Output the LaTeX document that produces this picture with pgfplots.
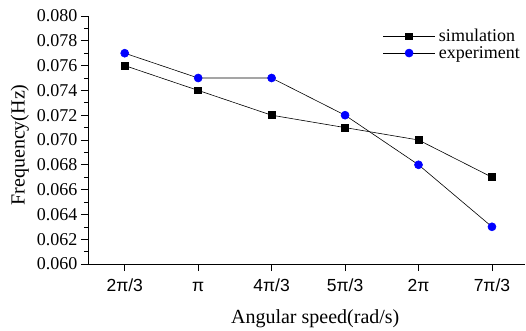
\documentclass[border=0pt]{standalone}
\usepackage{pgfplots}
\pgfplotsset{compat=1.18}
\usepackage{fontspec}
\setmainfont{Liberation Serif}
\newfontfamily\arial{Liberation Sans}
\begin{document}
\begin{tikzpicture}
\begin{axis}[
  scale only axis, width=437pt, height=248pt,
  xmin=-0.5, xmax=5.45, ymin=0.060, ymax=0.080,
  axis x line*=bottom, axis y line*=left,
  axis line style={-, black, line width=0.6pt},
  xtick={0,1,2,3,4,5},
  xticklabels={2π/3,π,4π/3,5π/3,2π,7π/3},
  ytick={0.060,0.062,0.064,0.066,0.068,0.070,0.072,0.074,0.076,0.078,0.080},
  minor y tick num=1,
  tick align=outside,
  major tick length=7pt, minor tick length=4pt,
  tick style={black, line width=0.6pt},
  scaled y ticks=false,
  /pgf/number format/assume math mode=true,
  yticklabel style={font=\fontsize{18}{20}\selectfont, /pgf/number format/.cd, fixed, fixed zerofill, precision=3},
  xticklabel style={font=\arial\fontsize{17.5}{20}\selectfont, text height=13pt, text depth=3pt, yshift=-4pt},
  xlabel={Angular speed(rad/s)},
  ylabel={Frequency(Hz)},
  label style={font=\fontsize{20}{22}\selectfont},
  xlabel style={at={(axis description cs:0.52,-0.222)}, anchor=center},
  ylabel style={at={(axis description cs:-0.156,0.48)}, anchor=center},
  legend style={draw=none, fill=none, at={(axis description cs:0.675,0.955)}, anchor=north west,
    font=\fontsize{18}{20}\selectfont, row sep=-1pt, inner sep=0pt,
    /tikz/every odd column/.append style={column sep=2pt}},
  legend cell align=left,
  legend image code/.code={\draw[mark repeat=2,mark phase=2,#1] plot coordinates {(0cm,0cm) (0.9cm,0cm) (1.8cm,0cm)};},
]
\addplot[black, line width=0.6pt, mark=square*, mark size=3.4pt, mark options={black, solid}]
  coordinates {(0,0.076) (1,0.074) (2,0.072) (3,0.071) (4,0.070) (5,0.067)};
\addlegendentry{simulation}
\addplot[black, line width=0.6pt, mark=*, mark size=4pt, mark options={blue, draw=blue, fill=blue, solid}]
  coordinates {(0,0.077) (1,0.075) (2,0.075) (3,0.072) (4,0.068) (5,0.063)};
\addlegendentry{experiment}
\end{axis}
\pgfresetboundingbox
\path[use as bounding box] (-88pt,-67pt) rectangle (438pt,264pt);
\end{tikzpicture}
\end{document}
